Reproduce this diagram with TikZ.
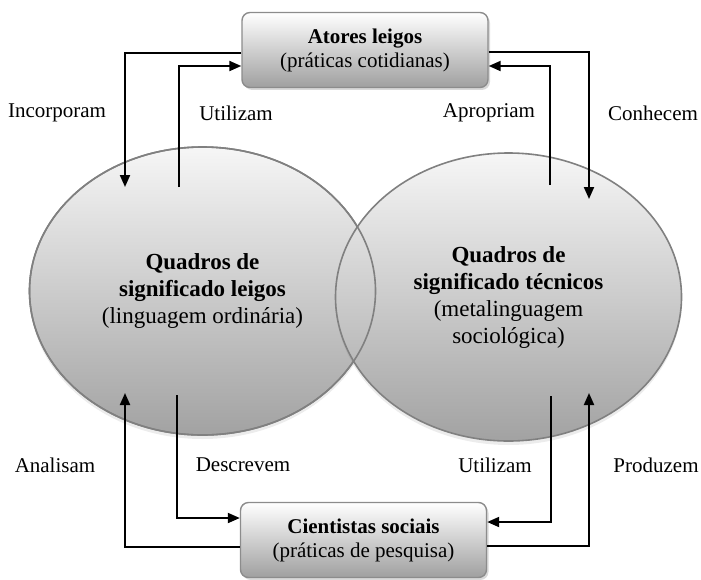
\documentclass[tikz,border=0pt]{standalone}
\usepackage{fontspec}
\setmainfont{Liberation Serif}
\usetikzlibrary{arrows.meta,shapes.geometric,shadows}
\definecolor{claro}{HTML}{F6F6F6}
\definecolor{escuro}{HTML}{A2A2A2}
\begin{document}
\begin{tikzpicture}[x=0.5pt,y=-0.5pt,
    caixa/.style={rectangle, rounded corners=4pt, draw=gray!90, line width=0.7pt,
      top color=white, bottom color=gray!75, minimum width=123pt, minimum height=37.5pt,
      align=center, font=\fontsize{10.5}{12}\selectfont,
      drop shadow={opacity=0.3, shadow xshift=1pt, shadow yshift=-1.2pt}},
    quadro/.style={ellipse, draw=gray, line width=0.8pt, top color=claro, bottom color=escuro,
      minimum width=173pt, minimum height=144pt, inner sep=0pt, align=center,
      font=\fontsize{11.5}{13.5}\selectfont,
      drop shadow={opacity=0.15, shadow xshift=0pt, shadow yshift=-2pt}},
    rotulo/.style={font=\fontsize{10.5}{12}\selectfont},
    seta/.style={-{Triangle[length=6pt,width=5pt]}, line width=1pt}]
  \useasboundingbox (0,0) rectangle (701,579);
  % circles
  \node[quadro] (leigos) at (202.5,291) {\textbf{Quadros de}\\\textbf{significado leigos}\\(linguagem ordinária)};
  \node[quadro] (tecnicos) at (508.5,297) {\textbf{Quadros de}\\\textbf{significado técnicos}\\(metalinguagem\\sociológica)};
  \draw[gray, line width=0.8pt] (leigos.center) ellipse [x radius=86.5pt, y radius=72pt];
  % boxes
  \node[caixa] (atores) at (365,50) {\textbf{Atores leigos}\\(práticas cotidianas)};
  \node[caixa] (cientistas) at (363.5,540) {\textbf{Cientistas sociais}\\(práticas de pesquisa)};
  % top arrows
  \coordinate (incA) at (125,187);
  \coordinate (utiA) at (179,187);
  \coordinate (aprA) at (550,185);
  \coordinate (conA) at (589,199);
  \draw[seta] ([yshift=-1.5pt]atores.west) -| (incA);
  \draw[seta] (utiA) |- ([yshift=-8pt]atores.west);
  \draw[seta] (aprA) |- ([yshift=-8pt]atores.east);
  \draw[seta] ([yshift=-1pt]atores.east) -| (conA);
  % bottom arrows
  \coordinate (anaA) at (125,393);
  \coordinate (desA) at (177,395);
  \coordinate (utiB) at (551,396);
  \coordinate (proA) at (589,393);
  \draw[seta] ([yshift=-3.5pt]cientistas.west) -| (anaA);
  \draw[seta] (desA) |- ([yshift=11pt]cientistas.west);
  \draw[seta] (utiB) |- ([yshift=9pt]cientistas.east);
  \draw[seta] ([yshift=-3pt]cientistas.east) -| (proA);
  % labels
  \node[rotulo] (incorporam) at (57,113) {Incorporam};
  \node[rotulo] (utilizamA) at (236,113) {Utilizam};
  \node[rotulo] (apropriam) at (489,113) {Apropriam};
  \node[rotulo] (conhecem) at (653,113) {Conhecem};
  \node[rotulo] (analisam) at (55,465) {Analisam};
  \node[rotulo] (descrevem) at (243,465) {Descrevem};
  \node[rotulo] (utilizamB) at (495,465) {Utilizam};
  \node[rotulo] (produzem) at (656,465) {Produzem};
\end{tikzpicture}
\end{document}
